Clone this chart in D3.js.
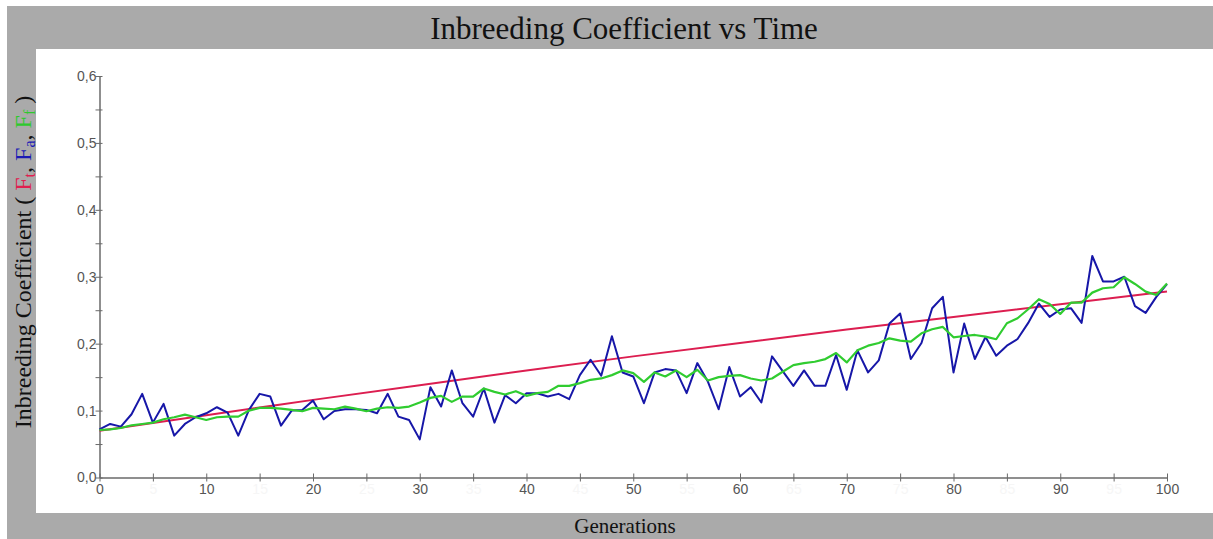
<!DOCTYPE html>
<html>
<head>
<meta charset="utf-8">
<script src="https://cdn.jsdelivr.net/npm/d3@7/dist/d3.min.js"></script>
<style>
  html, body { margin: 0; padding: 0; background: #ffffff; }
  svg { display: block; }
</style>
</head>
<body>
<svg id="chart" width="1213" height="539"></svg>
<script>
// ---------- DATA ----------
const generations = d3.range(0, 101);

// F_t (theoretical) read at every 10 generations
const ftGenerations = [0, 10, 20, 30, 40, 50, 60, 70, 80, 90, 100];
const ftValues = [0.070, 0.093, 0.116, 0.138, 0.160, 0.181, 0.201, 0.221, 0.240, 0.259, 0.278];

// F_a (blue)
const faValues = [
  0.072, 0.080, 0.076, 0.0945, 0.125, 0.082, 0.110, 0.0625, 0.080, 0.090,
  0.096, 0.105, 0.097, 0.0625, 0.101, 0.125, 0.121, 0.0775, 0.100, 0.101,
  0.115, 0.087, 0.0995, 0.102, 0.102, 0.101, 0.096, 0.125, 0.091, 0.086,
  0.057, 0.135, 0.106, 0.160, 0.111, 0.091, 0.133, 0.082, 0.123, 0.111,
  0.126, 0.126, 0.121, 0.125, 0.117, 0.153, 0.176, 0.152, 0.211, 0.157,
  0.151, 0.111, 0.157, 0.162, 0.160, 0.126, 0.171, 0.143, 0.102, 0.165,
  0.121, 0.135, 0.112, 0.181, 0.159, 0.137, 0.160, 0.137, 0.137, 0.183,
  0.131, 0.190, 0.157, 0.175, 0.230, 0.245, 0.177, 0.201, 0.253, 0.270,
  0.157, 0.230, 0.177, 0.210, 0.182, 0.197, 0.207, 0.231, 0.260, 0.240,
  0.251, 0.253, 0.231, 0.331, 0.293, 0.293, 0.300, 0.256, 0.246, 0.270,
  0.289
];

// F_f (green)
const ffValues = [
  0.071, 0.072, 0.074, 0.078, 0.080, 0.082, 0.087, 0.090, 0.094, 0.090,
  0.086, 0.090, 0.091, 0.091, 0.100, 0.104, 0.104, 0.103, 0.101, 0.099,
  0.104, 0.103, 0.102, 0.106, 0.103, 0.099, 0.103, 0.105, 0.104, 0.106,
  0.112, 0.119, 0.122, 0.113, 0.121, 0.121, 0.133, 0.128, 0.124, 0.129,
  0.122, 0.126, 0.128, 0.137, 0.137, 0.141, 0.146, 0.148, 0.153, 0.160,
  0.156, 0.143, 0.157, 0.151, 0.160, 0.150, 0.161, 0.145, 0.150, 0.152,
  0.153, 0.148, 0.145, 0.148, 0.158, 0.168, 0.171, 0.173, 0.177, 0.186,
  0.172, 0.190, 0.197, 0.201, 0.208, 0.2045, 0.203, 0.2155, 0.2215, 0.225,
  0.2095, 0.2115, 0.213, 0.2105, 0.2066, 0.2305, 0.238, 0.2514, 0.2664, 0.2593,
  0.2444, 0.2613, 0.2613, 0.2763, 0.2828, 0.2843, 0.2992, 0.2892, 0.2778, 0.2728,
  0.290
];

const xMajorTicks = [0, 10, 20, 30, 40, 50, 60, 70, 80, 90, 100];
const xMinorTicks = [5, 15, 25, 35, 45, 55, 65, 75, 85, 95];
const yMajorTicks = [0, 0.1, 0.2, 0.3, 0.4, 0.5, 0.6];
const yMinorTicks = [0.05, 0.15, 0.25, 0.35, 0.45, 0.55];

const titleText = "Inbreeding Coefficient vs Time";
const xLabelText = "Generations";

// ---------- DRAW ----------
const svg = d3.select("#chart");

// frame
svg.append("rect").attr("x", 7).attr("y", 6).attr("width", 1206).attr("height", 533).attr("fill", "#aaaaaa");
svg.append("rect").attr("x", 36).attr("y", 49).attr("width", 1177).attr("height", 464).attr("fill", "#ffffff");

// title
svg.append("text")
  .attr("x", 624).attr("y", 39)
  .attr("text-anchor", "middle")
  .attr("font-family", "'Liberation Serif', 'Times New Roman', serif")
  .attr("font-size", 31)
  .attr("fill", "#111")
  .text(titleText);

// x label
svg.append("text")
  .attr("x", 625).attr("y", 533)
  .attr("text-anchor", "middle")
  .attr("font-family", "'Liberation Serif', 'Times New Roman', serif")
  .attr("font-size", 21)
  .attr("fill", "#111")
  .text(xLabelText);

// y label with coloured parts
const yl = svg.append("text")
  .attr("transform", "translate(31,262) rotate(-90)")
  .attr("text-anchor", "middle")
  .attr("font-family", "'Liberation Serif', 'Times New Roman', serif")
  .attr("font-size", 24)
  .attr("fill", "#111");
yl.append("tspan").text("Inbreeding Coefficient ( ");
yl.append("tspan").attr("fill", "#e0204f").text("F");
yl.append("tspan").attr("fill", "#e0204f").attr("font-size", 16).attr("dy", 4).text("t");
yl.append("tspan").attr("dy", -4).text(", ");
yl.append("tspan").attr("fill", "#1a1ab4").text("F");
yl.append("tspan").attr("fill", "#1a1ab4").attr("font-size", 16).attr("dy", 4).text("a");
yl.append("tspan").attr("dy", -4).text(", ");
yl.append("tspan").attr("fill", "#2ec82e").text("F");
yl.append("tspan").attr("fill", "#2ec82e").attr("font-size", 16).attr("dy", 4).text("f");
yl.append("tspan").attr("dy", -4).text(" )");

// scales
const x = d3.scaleLinear().domain([0, 100]).range([99.5, 1167]);
const y = d3.scaleLinear().domain([0, 0.6]).range([477.5, 76]);

const fmtY = d => d3.format(".1f")(d).replace(".", ",");
const axisColor = "#6a6a6a";
const tickFont = "'Liberation Sans', Arial, sans-serif";

// X axis
const xAxisG = svg.append("g").attr("transform", `translate(0,${y(0)})`)
  .call(d3.axisBottom(x).tickValues(xMajorTicks.concat(xMinorTicks)).tickSizeInner(4).tickSizeOuter(0)
    .tickFormat(d => String(d)));
xAxisG.select(".domain").attr("stroke", axisColor).attr("stroke-width", 1.5);
xAxisG.selectAll(".tick line").attr("stroke", axisColor).attr("y1", -4).attr("y2", 4);
xAxisG.selectAll(".tick text")
  .attr("y", 7)
  .attr("font-family", tickFont).attr("font-size", 14)
  .attr("fill", d => xMinorTicks.includes(d) ? "#f6f6f6" : "#555");

// Y axis
const yAxisG = svg.append("g").attr("transform", `translate(${x(0)},0)`)
  .call(d3.axisLeft(y).tickValues(yMajorTicks.concat(yMinorTicks)).tickSizeInner(4).tickSizeOuter(0)
    .tickFormat(d => yMajorTicks.includes(d) ? fmtY(d) : ""));
yAxisG.select(".domain").attr("stroke", axisColor).attr("stroke-width", 1.5);
yAxisG.selectAll(".tick line").attr("stroke", axisColor).attr("x1", 3).attr("x2", -4);
yAxisG.selectAll(".tick text")
  .attr("x", -3)
  .attr("font-family", tickFont).attr("font-size", 14)
  .attr("fill", "#555");

// lines
const line = d3.line().x(d => x(d[0])).y(d => y(d[1]));

svg.append("path")
  .datum(ftGenerations.map((g, i) => [g, ftValues[i]]))
  .attr("d", line).attr("fill", "none")
  .attr("stroke", "#dc1e50").attr("stroke-width", 2);

svg.append("path")
  .datum(generations.map((g, i) => [g, faValues[i]]))
  .attr("d", line).attr("fill", "none")
  .attr("stroke", "#1717a8").attr("stroke-width", 2).attr("stroke-linejoin", "round");

svg.append("path")
  .datum(generations.map((g, i) => [g, ffValues[i]]))
  .attr("d", line).attr("fill", "none")
  .attr("stroke", "#30cc30").attr("stroke-width", 2.2).attr("stroke-linejoin", "round");
</script>
</body>
</html>
